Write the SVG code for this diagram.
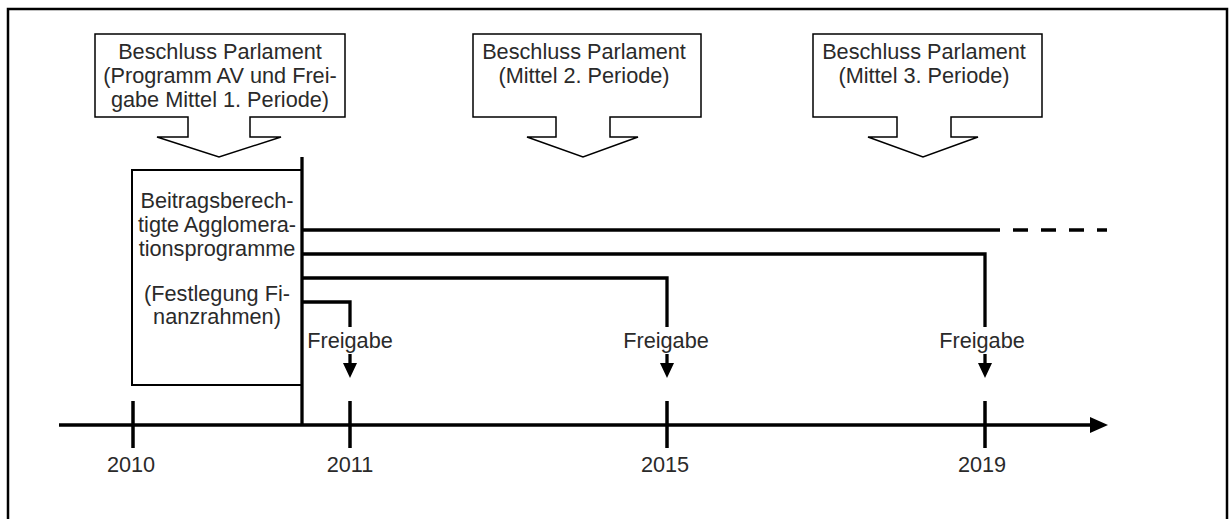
<svg xmlns="http://www.w3.org/2000/svg" width="1229" height="519" viewBox="0 0 1229 519">
<style>
.t{font-family:"Liberation Sans",Arial,sans-serif;font-size:21.7px;fill:#2a2a2a;text-anchor:middle}
.co{fill:#fff;stroke:#000;stroke-width:1.5}
.ln{fill:none;stroke:#000;stroke-width:3.3}
.tk{stroke:#000;stroke-width:3.5}
</style>
<rect x="0" y="0" width="1229" height="519" fill="#fff"/>
<rect id="frame" x="8" y="9" width="1219" height="530" fill="none" stroke="#000" stroke-width="2.5"/>

<g id="callout1">
<path class="co" d="M95,34 H345 V117 H250 V137 H281 L219,157 L157,137 H188 V117 H95 Z"/>
<text class="t" x="220" y="59">Beschluss Parlament</text>
<text class="t" x="220" y="83">(Programm AV und Frei-</text>
<text class="t" x="220" y="107">gabe Mittel 1. Periode)</text>
</g>
<g id="callout2">
<path class="co" d="M473,34 H701 V117 H610 V137 H638 L583,157 L527,137 H556 V117 H473 Z"/>
<text class="t" x="584" y="59">Beschluss Parlament</text>
<text class="t" x="584" y="83">(Mittel 2. Periode)</text>
</g>
<g id="callout3">
<path class="co" d="M813,34 H1042 V117 H951 V137 H978 L923,157 L868,137 H897 V117 H813 Z"/>
<text class="t" x="924" y="59">Beschluss Parlament</text>
<text class="t" x="924" y="83">(Mittel 3. Periode)</text>
</g>

<g id="programme">
<rect x="132" y="170" width="170" height="215" fill="#fff" stroke="#000" stroke-width="2"/>
<text class="t" x="217" y="208">Beitragsberech-</text>
<text class="t" x="217" y="232">tigte Agglomera-</text>
<text class="t" x="217" y="256">tionsprogramme</text>
<text class="t" x="217" y="301">(Festlegung Fi-</text>
<text class="t" x="217" y="324">nanzrahmen)</text>
</g>

<g id="connectors">
<line class="ln" x1="302" y1="157" x2="302" y2="426"/>
<line class="ln" x1="302" y1="230" x2="985" y2="230"/>
<line class="ln" x1="985" y1="230" x2="1107" y2="230" stroke-dasharray="15 13"/>
<polyline class="ln" points="302,254 985,254 985,327"/>
<polyline class="ln" points="302,278 667,278 667,327"/>
<polyline class="ln" points="302,302 350,302 350,327"/>
<line class="ln" x1="350" y1="354" x2="350" y2="366"/>
<line class="ln" x1="667" y1="354" x2="667" y2="366"/>
<line class="ln" x1="985" y1="354" x2="985" y2="366"/>
<path d="M343,363 H357 L350,378 Z"/>
<path d="M660,363 H674 L667,378 Z"/>
<path d="M978,363 H992 L985,378 Z"/>
<line class="ln" x1="59" y1="425" x2="1092" y2="425"/>
<path d="M1090,417 L1108,425 L1090,433 Z"/>
<line class="tk" x1="133" y1="401" x2="133" y2="448"/>
<line class="tk" x1="350" y1="401" x2="350" y2="448"/>
<line class="tk" x1="667" y1="401" x2="667" y2="448"/>
<line class="tk" x1="985" y1="401" x2="985" y2="448"/>
</g>

<g id="labels">
<text class="t" x="350" y="348">Freigabe</text>
<text class="t" x="666" y="348">Freigabe</text>
<text class="t" x="982" y="348">Freigabe</text>
<text class="t" x="131" y="472">2010</text>
<text class="t" x="350" y="472">2011</text>
<text class="t" x="665" y="472">2015</text>
<text class="t" x="982" y="472">2019</text>
</g>
</svg>
